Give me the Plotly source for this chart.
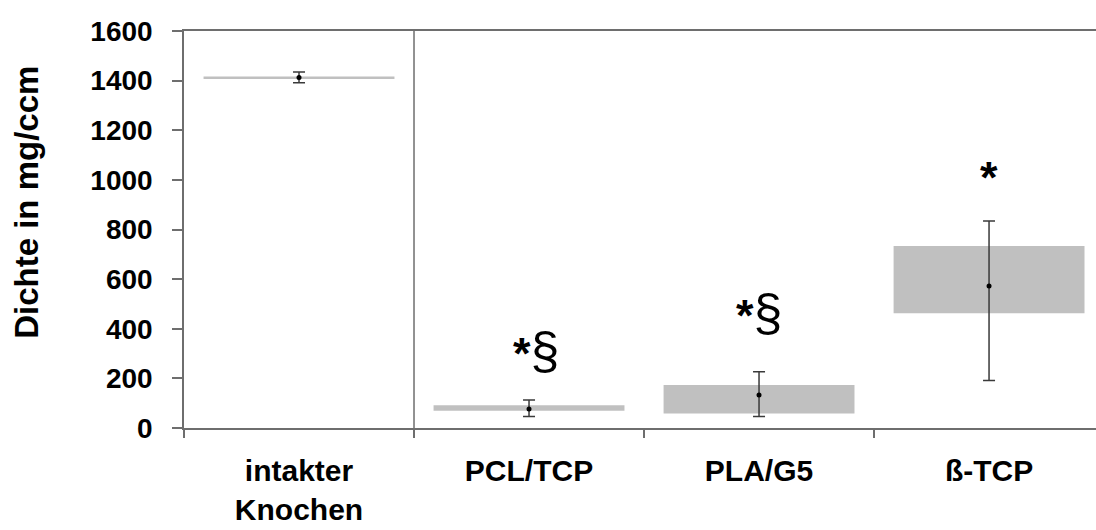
import plotly.graph_objects as go

# Gruppen und Messwerte (Knochendichte in mg/ccm)
categories = ["intakter<br>Knochen", "PCL/TCP", "PLA/G5", "ß-TCP"]
range_low = [1409, 70, 58, 462]
range_high = [1417, 92, 173, 733]
mean_values = [1413, 77, 133, 572]
err_plus = [22, 36, 94, 262]
err_minus = [22, 31, 87, 381]

# Signifikanzmarkierungen (* = vs. intakter Knochen, § = vs. ß-TCP)
sig_marks = ["*§", "*§", "*"]
sig_x = [1.030, 2.0, 3.0]
sig_y = [310, 463, 1008]

FONT = "Liberation Sans, Arial, sans-serif"
AXIS_COLOR = "#6e6e6e"


def sig_text(mark):
    # Sternchen fett, Paragraphenzeichen groß
    parts = []
    for ch in mark:
        if ch == "*":
            parts.append("<span style='font-size:45px'><b>*</b></span>")
        else:
            parts.append(ch)
    return "".join(parts)


fig = go.Figure()

# Spannweite als schwebender Balken
fig.add_trace(go.Bar(
    x=categories,
    y=[h - l for h, l in zip(range_high, range_low)],
    base=range_low,
    marker=dict(color="#c0c0c0", line=dict(width=0)),
    width=0.83,
    showlegend=False,
    hoverinfo="skip",
))

# Mittelwert mit Fehlerbalken
fig.add_trace(go.Scatter(
    x=categories,
    y=mean_values,
    mode="markers",
    marker=dict(color="black", size=5),
    error_y=dict(
        type="data", symmetric=False,
        array=err_plus, arrayminus=err_minus,
        color="#3a3a3a", thickness=1.5, width=6,
    ),
    showlegend=False,
))

# Trennlinie zwischen Kontrolle und Implantaten
fig.add_shape(
    type="line", xref="x", yref="paper",
    x0=0.5, x1=0.5, y0=0, y1=1,
    line=dict(color=AXIS_COLOR, width=1.5),
)

for mark, xs, ys in zip(sig_marks, sig_x, sig_y):
    fig.add_annotation(
        x=xs, y=ys, xref="x", yref="y",
        text=sig_text(mark), showarrow=False,
        font=dict(family=FONT, size=40 if mark == "*" else 52, color="black"),
    )

# Achsentitel
fig.add_annotation(
    xref="paper", yref="paper", x=-0.196, y=0.569,
    text="<b>Dichte in mg/ccm</b>", textangle=-90, showarrow=False,
    font=dict(family=FONT, size=33, color="black"),
)

fig.update_layout(
    width=1096, height=530,
    margin=dict(l=184, r=0, t=31, b=102, autoexpand=False),
    paper_bgcolor="white", plot_bgcolor="white",
    bargap=0.17,
    font=dict(family=FONT, color="black"),
)

fig.update_xaxes(
    type="category",
    range=[-0.5, 3.465],
    tickson="boundaries",
    ticks="outside", ticklen=8, tickwidth=1.5, tickcolor=AXIS_COLOR,
    showline=True, linecolor=AXIS_COLOR, linewidth=2, mirror=True,
    showgrid=False, automargin=False,
    tickfont=dict(family=FONT, size=30, color="black", weight="bold"),
    ticklabelstandoff=15,
)

fig.update_yaxes(
    range=[0, 1600],
    tickvals=[0, 200, 400, 600, 800, 1000, 1200, 1400, 1600],
    ticks="outside", ticklen=10, tickwidth=1.5, tickcolor=AXIS_COLOR,
    showline=True, linecolor=AXIS_COLOR, linewidth=1.5,
    showgrid=False, zeroline=False, automargin=False,
    tickfont=dict(family=FONT, size=28, color="black", weight="bold"),
    ticklabelstandoff=14,
)

fig.write_html("out.html")
